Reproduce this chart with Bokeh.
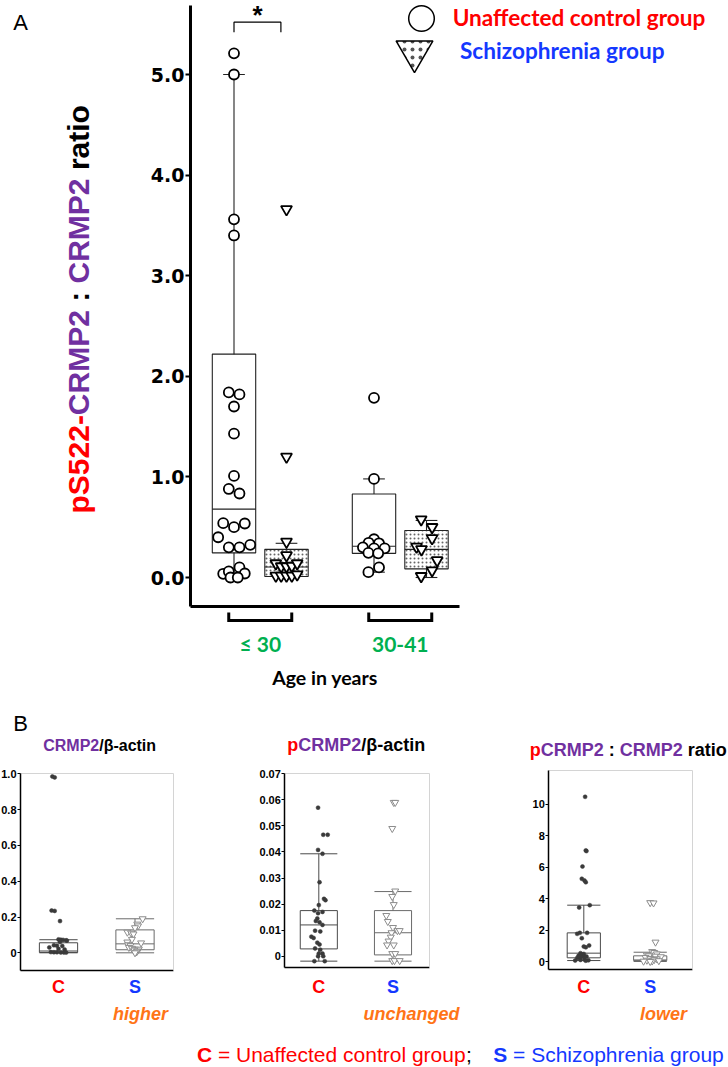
import math
from bokeh.plotting import figure
from bokeh.models import (Range1d, FixedTicker, Label, Legend, LegendItem,
                          NumeralTickFormatter, LinearAxis)
from bokeh.embed import file_html
from bokeh.resources import INLINE

# ====================== DATA ======================
# ---- Panel A : pS522-CRMP2 : CRMP2 ratio by age group ----
age_groups = ["≤ 30", "30-41"]
group_names = ["Unaffected control group", "Schizophrenia group"]

ctrl_le30 = [5.21, 5.00, 3.56, 3.40, 1.84, 1.82, 1.70, 1.43, 1.01, 0.88, 0.835,
             0.54, 0.50, 0.537, 0.40, 0.30, 0.30, 0.325, 0.037, 0.06, 0.10, 0.04, 0.0, 0.0]
ctrl_le30_jitter = [0, 0, 0, 0, -0.037, 0.039, 0, 0, 0, -0.037, 0.039,
                    -0.077, 0, 0.077, -0.113, -0.037, 0.039, 0.116, -0.077, -0.037, 0.039, 0.077, -0.025, 0.027]
scz_le30 = [3.66, 1.20, 0.355, 0.22, 0.14, 0.11, 0.11, 0.115, 0.14, 0.017, 0.017, 0.017, 0.017, 0.03]
scz_le30_jitter = [0, 0, 0, 0, -0.076, -0.038, 0, 0.038, 0.076, -0.076, -0.038, 0, 0.038, 0.076]
ctrl_30_41 = [1.786, 0.98, 0.38, 0.345, 0.34, 0.30, 0.29, 0.29, 0.245, 0.24, 0.10, 0.053]
ctrl_30_41_jitter = [0, 0, 0, -0.038, 0.036, -0.079, 0.076, 0, -0.04, 0.03, 0.036, -0.04]
scz_30_41 = [0.577, 0.50, 0.39, 0.305, 0.28, 0.17, 0.07, 0.013]
scz_30_41_jitter = [-0.038, 0.04, 0.04, -0.071, -0.036, 0.076, 0.04, -0.038]

# box summaries, order: ctrl <=30, scz <=30, ctrl 30-41, scz 30-41
a_whisker_low = [0.0, 0.0, 0.053, 0.0]
a_q1 = [0.245, 0.01, 0.24, 0.086]
a_median = [0.68, 0.105, 0.31, 0.28]
a_q3 = [2.22, 0.28, 0.83, 0.467]
a_whisker_high = [5.0, 0.34, 0.98, 0.567]
a_ticks = [0, 1, 2, 3, 4, 5]
sig_level = 5.52

# ---- Panel B : three small box plots (C = control, S = schizophrenia) ----
b_categories = ["C", "S"]
b_trends = ["higher", "unchanged", "lower"]

b1_ctrl = [0.985, 0.98, 0.236, 0.234, 0.177, 0.075, 0.073, 0.072, 0.07, 0.068, 0.06, 0.042,
           0.04, 0.038, 0.03, 0.022, 0.018, 0.004, 0.003, 0.003, 0.002, 0.002, 0.001]
b1_ctrl_jitter = [-0.08, -0.05, -0.09, -0.05, 0.02, 0.0, 0.03, 0.06, 0.1, 0.11, 0.02, -0.06,
                  -0.02, 0.05, -0.12, 0.0, 0.08, -0.1, -0.06, -0.02, 0.03, 0.07, 0.1]
b1_scz = [0.19, 0.16, 0.15, 0.14, 0.115, 0.11, 0.105, 0.075, 0.06, 0.055, 0.045, 0.04,
          0.03, 0.025, 0.02, 0.02, 0.015, 0.01, 0.005, 0.0]
b1_scz_jitter = [0.1, 0.03, 0.04, 0.0, -0.1, -0.05, -0.02, -0.04, -0.1, 0.08, -0.09, -0.06,
                 -0.08, -0.04, 0.0, 0.05, -0.01, 0.03, 0.02, 0.0]
b1_box_ctrl = [0.0, 0.002, 0.01, 0.056, 0.073]     # low, q1, median, q3, high
b1_box_scz = [0.0, 0.017, 0.05, 0.128, 0.19]
b1_ticks = [0, 0.2, 0.4, 0.6, 0.8, 1.0]

b2_ctrl = [0.057, 0.0466, 0.0466, 0.0408, 0.0393, 0.0284, 0.022, 0.0215, 0.0196, 0.0175,
           0.017, 0.0165, 0.0145, 0.013, 0.0135, 0.012, 0.0098, 0.0095, 0.0075, 0.007,
           0.0052, 0.0045, 0.003, 0.0025, 0.001, 0.001, 0.0, 0.0, -0.0019, -0.0019]
b2_ctrl_jitter = [-0.01, 0.06, 0.12, -0.01, 0.05, 0.01, 0.07, 0.09, 0.0, -0.06,
                  0.05, -0.01, -0.02, 0.01, -0.04, 0.05, -0.05, 0.02, -0.1, -0.07,
                  -0.02, 0.01, -0.05, 0.02, 0.0, 0.05, -0.01, 0.06, -0.06, 0.08]
b2_scz = [0.059, 0.059, 0.049, 0.025, 0.0229, 0.0198, 0.0156, 0.0133, 0.011, 0.0098, 0.0098,
          0.009, 0.0073, 0.0058, 0.0043, 0.0043, 0.001, 0.001, -0.0017, -0.0017, -0.0017]
b2_scz_jitter = [0.01, 0.03, -0.01, 0.03, -0.01, 0.01, -0.09, -0.07, 0.0, 0.06, 0.09,
                 -0.02, -0.03, -0.06, -0.08, 0.01, -0.01, 0.03, -0.01, 0.02, 0.09]
b2_box_ctrl = [-0.0019, 0.0028, 0.012, 0.0175, 0.0393]
b2_box_scz = [-0.0019, 0.0005, 0.009, 0.0175, 0.0248]
b2_ticks = [0, 0.01, 0.02, 0.03, 0.04, 0.05, 0.06, 0.07]

b3_ctrl = [10.47, 7.06, 7.02, 6.04, 5.26, 5.15, 5.04, 3.58, 3.43, 1.82, 1.82, 1.76, 1.48, 1.02,
           0.95, 0.90, 0.53, 0.48, 0.44, 0.36, 0.35, 0.32, 0.28, 0.25, 0.22, 0.12, 0.10, 0.08, 0.06, 0.05]
b3_ctrl_jitter = [0.02, 0.03, 0.04, -0.02, -0.03, 0.01, 0.03, 0.09, -0.07, -0.06, 0.05, -0.1, -0.03, 0.08,
                  0.0, 0.03, -0.05, 0.0, -0.02, -0.08, 0.0, 0.04, -0.04, -0.07, -0.1, 0.01, -0.05, 0.07, -0.13, 0.03]
b3_scz = [3.74, 3.72, 1.23, 0.63, 0.57, 0.48, 0.40, 0.36, 0.34, 0.30, 0.25, 0.19, 0.17, 0.12,
          0.08, 0.05, 0.03, 0.02, 0.0]
b3_scz_jitter = [0.0, 0.05, 0.08, 0.03, 0.06, 0.1, -0.05, -0.02, 0.08, 0.16, -0.07, 0.0, 0.1, 0.06,
                 -0.05, 0.13, 0.03, -0.1, 0.0]
b3_box_ctrl = [0.06, 0.235, 0.53, 1.82, 3.58]
b3_box_scz = [0.0, 0.06, 0.1, 0.36, 0.59]
b3_ticks = [0, 2, 4, 6, 8, 10]

# ====================== STYLE / GEOMETRY ======================
RED = "#FF0000"
PURPLE = "#7030A0"
BLUE = "#1438FF"
GREEN = "#00B050"
ORANGE = "#FF7417"
ARIAL = "Liberation Sans"
CALIBRI = "Lato"
PAGE_W, PAGE_H = 728, 1067

AB = {' ': 278, '-': 333, '.': 278, '/': 278, ':': 333, ';': 333, '=': 584, '*': 389,
      'A': 722, 'B': 722, 'C': 722, 'M': 833, 'P': 667, 'R': 722, 'S': 667, 'U': 722,
      'a': 556, 'c': 556, 'd': 611, 'e': 556, 'f': 333, 'g': 611, 'h': 611, 'i': 278,
      'l': 278, 'n': 611, 'o': 611, 'p': 611, 'r': 389, 's': 556, 't': 333, 'u': 611,
      'y': 556, 'z': 500, 'β': 611}
AR = {' ': 278, '=': 584, ';': 278, 'C': 722, 'S': 667, 'U': 722, 'a': 556, 'c': 500,
      'd': 556, 'e': 556, 'f': 278, 'g': 556, 'h': 556, 'i': 222, 'l': 222, 'n': 556,
      'o': 556, 'p': 556, 'r': 333, 't': 278, 'u': 556, 'z': 500}


def tw(s, size, table):
    return sum(table.get(ch, 556) for ch in s) * size / 1000.0


# panel geometry on the page: pixel of category 1, px per x unit, pixel of value 0, px per y unit,
# and the frame box (left, right, top, bottom)
GEOM = {
    "a":  dict(x1=259.75, xppu=140.0, y0=577.0, yppu=100.6, frame=(190.0, 459.0, 5.0, 606.0)),
    "b1": dict(x1=58.0, xppu=76.5, y0=952.3, yppu=179.0, frame=(20.0, 172.7, 772.7, 970.0)),
    "b2": dict(x1=318.3, xppu=74.2, y0=955.7, yppu=2606.0, frame=(284.3, 429.3, 772.7, 967.3)),
    "b3": dict(x1=583.3, xppu=66.4, y0=961.0, yppu=15.73, frame=(548.3, 692.3, 770.0, 968.7)),
}


def xv(k, px):
    g = GEOM[k]
    return 1 + (px - g["x1"]) / g["xppu"]


def yv(k, py):
    g = GEOM[k]
    return (g["y0"] - py) / g["yppu"]


p = figure(width=PAGE_W, height=PAGE_H, x_range=Range1d(0, PAGE_W), y_range=Range1d(PAGE_H, 0),
           x_axis_type=None, y_axis_type=None, min_border=0, output_backend="svg",
           toolbar_location=None)
p.outline_line_color = None
p.background_fill_color = "white"
p.border_fill_color = "white"
for k in GEOM:
    p.extra_x_ranges[k + "x"] = Range1d(xv(k, 0), xv(k, PAGE_W))
    p.extra_y_ranges[k + "y"] = Range1d(yv(k, PAGE_H), yv(k, 0))


def R(k):
    return dict(x_range_name=k + "x", y_range_name=k + "y")


def text(x, y, t, size, color="black", style="normal", font=ARIAL, align="left", angle=0.0,
         baseline="middle"):
    p.add_layout(Label(x=x, y=y, text=t, text_font=font, text_font_style=style,
                       text_font_size=f"{size}px", text_color=color, text_align=align,
                       text_baseline=baseline, angle=angle))


def rich_text(parts, x0, y0, size, table, style="bold", font=ARIAL, angle=0.0):
    pos = 0.0
    for t, color in parts:
        core = t.strip()
        pos += tw(t[:len(t) - len(t.lstrip())], size, table)
        if core:
            if angle == 0:
                text(x0 + pos, y0, core, size, color, style, font)
            else:
                text(x0, y0 - pos, core, size, color, style, font, angle=angle)
        pos += tw(core, size, table) + tw(t[len(t.rstrip()):], size, table)


def frame_axes(k, ticks, fmt, tick_font, tick_size, tick_style, line_w, tick_out, tick_w,
               standoff, border_color=None, overrides=None):
    l, r, t, b = GEOM[k]["frame"]
    xl, xr_, yt, yb = xv(k, l), xv(k, r), yv(k, t), yv(k, b)
    ya = LinearAxis(fixed_location=xl, bounds=(yb, yt), ticker=FixedTicker(ticks=ticks),
                    formatter=NumeralTickFormatter(format=fmt), axis_line_width=line_w,
                    major_tick_out=tick_out, major_tick_in=0, major_tick_line_width=tick_w,
                    minor_tick_line_color=None, major_label_standoff=standoff,
                    major_label_text_font=tick_font, major_label_text_font_size=f"{tick_size}px",
                    major_label_text_font_style=tick_style, major_label_text_color="black", **R(k))
    if overrides:
        ya.major_label_overrides = overrides
    p.add_layout(ya, "left")
    xa_ = LinearAxis(fixed_location=yb, bounds=(xl, xr_), ticker=FixedTicker(ticks=[]),
                     axis_line_width=line_w, major_tick_out=0, major_tick_in=0,
                     minor_tick_line_color=None, **R(k))
    p.add_layout(xa_, "below")
    if border_color:
        p.add_layout(LinearAxis(fixed_location=yt, bounds=(xl, xr_), ticker=FixedTicker(ticks=[]),
                                axis_line_color=border_color, axis_line_width=1, major_tick_out=0,
                                major_tick_in=0, minor_tick_line_color=None, **R(k)), "above")
        p.add_layout(LinearAxis(fixed_location=xr_, bounds=(yb, yt), ticker=FixedTicker(ticks=[]),
                                axis_line_color=border_color, axis_line_width=1, major_tick_out=0,
                                major_tick_in=0, minor_tick_line_color=None, **R(k)), "right")
    return xa_


# ====================== PANEL A ======================
xaxis_a = frame_axes("a", a_ticks, "0.0", "DejaVu Sans", 19, "bold", 3, 5, 2, 1)
xaxis_a.ticker = FixedTicker(ticks=[1, 2])
xaxis_a.major_label_overrides = {1: age_groups[0], 2: age_groups[1]}
xaxis_a.major_label_text_color = GREEN
xaxis_a.major_label_text_font = CALIBRI
xaxis_a.major_label_text_font_style = "bold"
xaxis_a.major_label_text_font_size = "21px"
xaxis_a.major_label_standoff = 24
xaxis_a.axis_label = "Age in years"
xaxis_a.axis_label_text_font = CALIBRI
xaxis_a.axis_label_text_font_style = "bold"
xaxis_a.axis_label_text_font_size = "19.5px"
xaxis_a.axis_label_text_color = "black"
xaxis_a.axis_label_standoff = 7

series_offset = [-0.1875, 0.1875, -0.1875, 0.1875]
group_index = [1, 1, 2, 2]
xa = [g + o for g, o in zip(group_index, series_offset)]
bw_a = 0.31
cap_a = 0.155
box_line = dict(line_color="#222222", line_width=1.1, **R("a"))

for i in range(4):
    kw = dict(fill_color="white")
    if i % 2 == 1:
        kw.update(hatch_pattern="dot", hatch_scale=4, hatch_color="#666666", hatch_weight=0.8)
    p.quad(left=[xa[i] - bw_a / 2], right=[xa[i] + bw_a / 2], bottom=[a_q1[i]], top=[a_q3[i]],
           **kw, **box_line)
p.segment(x0=[x - bw_a / 2 for x in xa], x1=[x + bw_a / 2 for x in xa], y0=a_median, y1=a_median, **box_line)
p.segment(x0=xa, x1=xa, y0=a_q3, y1=a_whisker_high, **box_line)
p.segment(x0=xa, x1=xa, y0=a_whisker_low, y1=a_q1, **box_line)
p.segment(x0=[x - cap_a / 2 for x in xa], x1=[x + cap_a / 2 for x in xa],
          y0=a_whisker_high, y1=a_whisker_high, **box_line)
p.segment(x0=[x - cap_a / 2 for x in xa], x1=[x + cap_a / 2 for x in xa],
          y0=a_whisker_low, y1=a_whisker_low, **box_line)

circ_kw = dict(marker="circle", size=10, fill_color="white", line_color="black", line_width=1.8, **R("a"))
tri_kw = dict(marker="inverted_triangle", size=11, fill_color="white", line_color="black",
              line_width=1.8, **R("a"))
p.scatter(x=[xa[0] + j for j in ctrl_le30_jitter], y=ctrl_le30, **circ_kw)
p.scatter(x=[xa[1] + j for j in scz_le30_jitter], y=scz_le30, **tri_kw)
p.scatter(x=[xa[2] + j for j in ctrl_30_41_jitter], y=ctrl_30_41, **circ_kw)
p.scatter(x=[xa[3] + j for j in scz_30_41_jitter], y=scz_30_41, **tri_kw)

# significance bracket and star
sx0, sx1 = xa[0], xa[1] - 0.04
p.line(x=[sx0, sx0, sx1, sx1], y=[sig_level - 0.1, sig_level, sig_level, sig_level - 0.1],
       line_color="black", line_width=1.2, **R("a"))
p.add_layout(Label(x=(sx0 + sx1) / 2, y=yv("a", 29.5), text="*", text_align="center",
                   text_baseline="bottom", text_font=ARIAL, text_font_style="bold",
                   text_font_size="26px", text_color="black", **R("a")))

# brackets under each age group
for g in [1, 2]:
    a_, b_ = g - 0.225, g + 0.225
    p.line(x=[a_, a_, b_, b_], y=[yv("a", 612), yv("a", 620), yv("a", 620), yv("a", 612)],
           line_color="black", line_width=3, line_join="miter", **R("a"))

# legend (glyph-only renderers carry no data points)
leg_c = p.scatter(x=[float("nan")], y=[float("nan")], marker="circle", size=10, fill_color="white",
                  line_color="black", line_width=1.5)
leg_s = p.scatter(x=[float("nan")], y=[float("nan")], marker="inverted_triangle", size=10,
                  fill_color="white", line_color="black", line_width=1.5, hatch_pattern="dot",
                  hatch_scale=8, hatch_color="#555555", hatch_weight=1.0)
for rend, name, col, cx, cy, gsz in [(leg_c, group_names[0], RED, 420.7, 17.5, 64),
                                     (leg_s, group_names[1], BLUE, 414.0, 50.5, 92)]:
    p.add_layout(Legend(items=[LegendItem(label=name, renderers=[rend])],
                        location=(cx - gsz / 2, PAGE_H - (cy + gsz / 2)),
                        glyph_width=gsz, glyph_height=gsz, padding=0, margin=0, spacing=0,
                        label_standoff=0, border_line_color=None, background_fill_alpha=0,
                        label_text_font=CALIBRI, label_text_font_style="bold",
                        label_text_font_size="22.6px", label_text_color=col))

text(20, 22, "A", 22, align="center")
rich_text([("pS522-", RED), ("CRMP2", PURPLE), (" : ", "black"), ("CRMP2", PURPLE), (" ratio", "black")],
          78, 513, 30, AB, angle=math.pi / 2)


# ====================== PANEL B ======================
def b_panel(k, ticks, fmt, ctrl, ctrl_j, scz, scz_j, box_c, box_s, title_parts, tx, ty, tsize,
            trend, trend_x):
    frame_axes(k, ticks, fmt, ARIAL, 11, "bold", 1.5, 3, 1, 1, border_color="#d4d4d4",
               overrides={0: "0"})
    bw = 0.5
    for x, st, col in [(1, box_c, "#4a4a4a"), (2, box_s, "#6a6a6a")]:
        lo, q1, med, q3, hi = st
        p.quad(left=[x - bw / 2], right=[x + bw / 2], bottom=[q1], top=[q3],
               fill_color=None, line_color=col, line_width=1, **R(k))
        p.segment(x0=[x - bw / 2, x, x, x - bw / 2, x - bw / 2],
                  x1=[x + bw / 2, x, x, x + bw / 2, x + bw / 2],
                  y0=[med, q3, lo, hi, lo], y1=[med, hi, q1, hi, lo],
                  line_color=col, line_width=1, **R(k))
    p.scatter(x=[1 + j for j in ctrl_j], y=ctrl, marker="circle", size=4, fill_color="#3a3a3a",
              line_color="#3a3a3a", line_width=0.5, **R(k))
    p.scatter(x=[2 + j for j in scz_j], y=scz, marker="inverted_triangle", size=7,
              fill_color="white", line_color="#8c8c8c", line_width=1, **R(k))
    for xc, cat, col in [(1, b_categories[0], RED), (2, b_categories[1], BLUE)]:
        p.add_layout(Label(x=xc, y=yv(k, 986), text=cat, text_align="center",
                           text_baseline="middle", text_font=ARIAL, text_font_style="bold",
                           text_font_size="18px", text_color=col, **R(k)))
    text(trend_x, 1013, trend, 18, ORANGE, "bold italic", align="center")
    rich_text(title_parts, tx, ty, tsize, AB)


b_panel("b1", b1_ticks, "0.0", b1_ctrl, b1_ctrl_jitter, b1_scz, b1_scz_jitter, b1_box_ctrl, b1_box_scz,
        [("CRMP2", PURPLE), ("/β-actin", "black")], 42.7, 745, 16, b_trends[0], 140)
b_panel("b2", b2_ticks, "0.00", b2_ctrl, b2_ctrl_jitter, b2_scz, b2_scz_jitter, b2_box_ctrl, b2_box_scz,
        [("p", RED), ("CRMP2", PURPLE), ("/β-actin", "black")], 286.7, 744.3, 18, b_trends[1], 411)
b_panel("b3", b3_ticks, "0", b3_ctrl, b3_ctrl_jitter, b3_scz, b3_scz_jitter, b3_box_ctrl, b3_box_scz,
        [("p", RED), ("CRMP2", PURPLE), (" : ", "black"), ("CRMP2", PURPLE), (" ratio", "black")],
        529.3, 749.3, 18, b_trends[2], 663)
text(20, 723, "B", 22, align="center")

# ====================== CAPTION ======================
cap = 21
cy = 1054
x = 196.4
text(x, cy, "C", cap, RED, "bold")
x += tw("C", cap, AB) + tw(" ", cap, AR)
t1 = "= " + group_names[0]
text(x, cy, t1, cap, RED)
x += tw(t1, cap, AR)
text(x, cy, ";", cap, "black")
x = 492.7
text(x, cy, "S", cap, BLUE, "bold")
x += tw("S", cap, AB) + tw(" ", cap, AR)
text(x, cy, "= " + group_names[1], cap, BLUE)

open("out.html", "w").write(file_html(p, INLINE))
